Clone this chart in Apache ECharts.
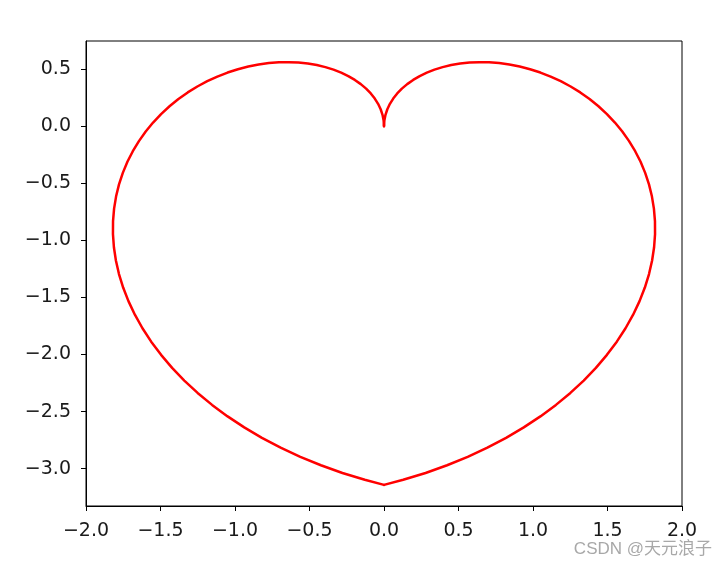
<!DOCTYPE html>
<html>
<head>
<meta charset="utf-8">
<script src="https://cdn.jsdelivr.net/npm/echarts@6/dist/echarts.min.js"></script>
<style>html,body{margin:0;padding:0;background:#fff;}#c{width:728px;height:570px;}</style>
</head>
<body>
<div id="c"></div>
<script>
// Right half of the heart: from the top cusp (0,0) down to the bottom tip
const rightX = [0, 0.0025, 0.0100, 0.0224, 0.0397, 0.0619, 0.0887, 0.1200, 0.1558, 0.1957, 0.2397, 0.2875, 0.3388, 0.3934, 0.4510, 0.5112, 0.5739, 0.6386, 0.7050, 0.7728, 0.8415, 0.9108, 0.9803, 1.0497, 1.1185, 1.1862, 1.2526, 1.3172, 1.3796, 1.4394, 1.4962, 1.5497, 1.5993, 1.6448, 1.6858, 1.7220, 1.7529, 1.7784, 1.7980, 1.8115, 1.8186, 1.8191, 1.8127, 1.7993, 1.7787, 1.7507, 1.7151, 1.6720, 1.6211, 1.5625, 1.4962, 1.4221, 1.3403, 1.2509, 1.1539, 1.0496, 0.9380, 0.8193, 0.6938, 0.5617, 0.4234, 0.2790, 0.1289, 0];
const rightY = [0, 0.0499, 0.0995, 0.1483, 0.1960, 0.2422, 0.2866, 0.3288, 0.3684, 0.4052, 0.4388, 0.4689, 0.4952, 0.5175, 0.5354, 0.5488, 0.5574, 0.5610, 0.5595, 0.5526, 0.5403, 0.5225, 0.4990, 0.4698, 0.4348, 0.3942, 0.3478, 0.2957, 0.2380, 0.1747, 0.1061, 0.0322, -0.0467, -0.1306, -0.2190, -0.3119, -0.4090, -0.5098, -0.6143, -0.7219, -0.8323, -0.9452, -1.0602, -1.1768, -1.2947, -1.4134, -1.5324, -1.6514, -1.7697, -1.8871, -2.0029, -2.1166, -2.2279, -2.3362, -2.4410, -2.5418, -2.6382, -2.7297, -2.8158, -2.8960, -2.9700, -3.0372, -3.0973, -3.1416];
// Left half, from the top cusp (0,0) down to the bottom tip
const leftX = [0, -0.0025, -0.0100, -0.0224, -0.0397, -0.0619, -0.0887, -0.1200, -0.1558, -0.1957, -0.2397, -0.2875, -0.3388, -0.3934, -0.4510, -0.5112, -0.5739, -0.6386, -0.7050, -0.7728, -0.8415, -0.9108, -0.9803, -1.0497, -1.1185, -1.1862, -1.2526, -1.3172, -1.3796, -1.4394, -1.4962, -1.5497, -1.5993, -1.6448, -1.6858, -1.7220, -1.7529, -1.7784, -1.7980, -1.8115, -1.8186, -1.8191, -1.8127, -1.7993, -1.7787, -1.7507, -1.7151, -1.6720, -1.6211, -1.5625, -1.4962, -1.4221, -1.3403, -1.2509, -1.1539, -1.0496, -0.9380, -0.8193, -0.6938, -0.5617, -0.4234, -0.2790, -0.1289, 0];
const leftY = [0, 0.0499, 0.0995, 0.1483, 0.1960, 0.2422, 0.2866, 0.3288, 0.3684, 0.4052, 0.4388, 0.4689, 0.4952, 0.5175, 0.5354, 0.5488, 0.5574, 0.5610, 0.5595, 0.5526, 0.5403, 0.5225, 0.4990, 0.4698, 0.4348, 0.3942, 0.3478, 0.2957, 0.2380, 0.1747, 0.1061, 0.0322, -0.0467, -0.1306, -0.2190, -0.3119, -0.4090, -0.5098, -0.6143, -0.7219, -0.8323, -0.9452, -1.0602, -1.1768, -1.2947, -1.4134, -1.5324, -1.6514, -1.7697, -1.8871, -2.0029, -2.1166, -2.2279, -2.3362, -2.4410, -2.5418, -2.6382, -2.7297, -2.8158, -2.8960, -2.9700, -3.0372, -3.0973, -3.1416];

const xTicks = [-2.0, -1.5, -1.0, -0.5, 0.0, 0.5, 1.0, 1.5, 2.0];
const yTicks = [-3.0, -2.5, -2.0, -1.5, -1.0, -0.5, 0.0, 0.5];
const watermark = 'CSDN @天元浪子';

const fmt = v => v.toFixed(1).replace('-', '\u2212');
const pairs = (xs, ys) => xs.map((x, i) => [x, ys[i]]);

const chart = echarts.init(document.getElementById('c'), null, {renderer: 'canvas'});
const lineStyle = {color: '#ff0000', width: 2.5, join: 'round', cap: 'round'};
chart.setOption({
  animation: false,
  grid: {left: 86, right: 46, top: 41, bottom: 64, show: true, borderColor: '#000', borderWidth: 1, backgroundColor: 'transparent'},
  xAxis: {
    type: 'value', min: -2, max: 2, interval: 0.5,
    axisLine: {show: true, onZero: false, lineStyle: {color: '#000', width: 1}},
    axisTick: {show: true, length: 5, lineStyle: {color: '#000'}, customValues: xTicks},
    axisLabel: {customValues: xTicks, formatter: fmt, color: '#1a1a1a', fontSize: 19, fontFamily: 'DejaVu Sans', margin: 16},
    splitLine: {show: false}
  },
  yAxis: {
    type: 'value', min: -3.3267, max: 0.7462,
    axisLine: {show: true, onZero: false, lineStyle: {color: '#000', width: 1}},
    axisTick: {show: true, length: 5, lineStyle: {color: '#000'}, customValues: yTicks},
    axisLabel: {customValues: yTicks, formatter: fmt, color: '#1a1a1a', fontSize: 19, fontFamily: 'DejaVu Sans', margin: 15},
    splitLine: {show: false}
  },
  series: [
    {type: 'line', data: pairs(leftX, leftY), symbol: 'none', smooth: false, lineStyle: lineStyle, clip: false},
    {type: 'line', data: pairs(rightX, rightY), symbol: 'none', smooth: false, lineStyle: lineStyle, clip: false}
  ],
  graphic: [{
    type: 'text', right: 16, top: 541,
    style: {text: watermark, fill: '#a8a8a8', fontSize: 17, fontFamily: 'Liberation Sans, Noto Sans CJK SC'}
  }]
});
</script>
</body>
</html>
